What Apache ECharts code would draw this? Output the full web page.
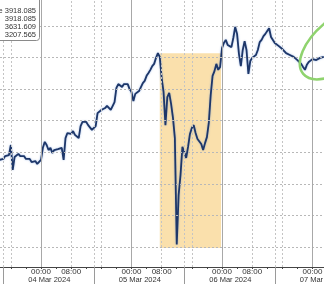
<!DOCTYPE html>
<html><head><meta charset="utf-8">
<script src="https://cdn.jsdelivr.net/npm/echarts@6/dist/echarts.min.js"></script>
<style>html,body{margin:0;padding:0;background:#fff;overflow:hidden}#c{width:324px;height:284px}</style>
</head><body><div id="c"></div>
<script>
// hours are counted from 04 Mar 2024 00:00
const startHour = -11;
const stepHours = 0.5;
const prices = [
3476,3482,3479,3488,3482,3491,3523,3444,3485,3479,
3495,3488,3482,3488,3479,3476,3479,3469,3466,3472,
3463,3469,3476,3514,3533,3523,3507,3514,3498,3507,
3501,3510,3504,3514,3476,3545,3561,3567,3558,3567,
3555,3561,3545,3583,3596,3590,3596,3586,3583,3571,
3577,3583,3624,3628,3634,3631,3640,3647,3650,3634,
3628,3659,3704,3716,3710,3707,3716,3710,3716,3700,
3691,3662,3685,3691,3694,3700,3719,3726,3742,3751,
3761,3773,3780,3799,3814,3802,3735,3691,3586,3675,
3688,3653,3609,3545,3207.6,3365,3428,3517,3501,3482,
3517,3558,3577,3586,3561,3542,3536,3526,3507,3529,
3548,3593,3681,3742,3757,3780,3761,3770,3830,3846,
3856,3840,3837,3833,3862,3897,3875,3811,3773,3824,
3852,3824,3748,3789,3799,3802,3808,3824,3849,3856,
3868,3875,3884,3893,3865,3859,3846,3840,3837,3833,
3827,3824,3814,3818,3808,3811,3802,3802,3792,3786,
3780,3770,3761,3777,3786,3792,3795,3789,3792,3795,
3799,3802,3802
];
const timeTickHours = [0, 8, 24, 32, 48, 56, 72];
const timeTickLabels = ['00:00','08:00','00:00','08:00','00:00','08:00','00:00'];
const minorTickHours = [-8,-4,0,4,8,12,16,20,24,28,32,36,40,44,48,52,56,60,64,68,72];
const dateLabelHours = [2.2, 26.2, 50.2, 74.2];
const dateLabels = ['04 Mar 2024','05 Mar 2024','06 Mar 2024','07 Mar 2024'];
const daySeparatorHours = [-10, 14, 38, 62];
const dayStartHours = [0, 24, 48, 72];
const sessionHours = [-10, -8, 8, 14, 16, 32, 38, 40, 56, 62, 64];
const gridValues = [3200, 3300, 3400, 3500, 3600, 3700, 3800, 3900];
const highlightHours = [31.5, 47.75];
const highlightValues = [3814, 3197];
const statLabels = ['Last Price', '', '', ''];
const statValues = ['3918.085', '3918.085', '3631.609', '3207.565'];
const xMin = -10.873, xMax = 75.05;
const yMin = 3136.6, yMax = 3982.3;

const seriesData = prices.map((p, i) => [startHour + i * stepHours, p]);
const FONT = '"Liberation Sans", Arial, sans-serif';

const chart = echarts.init(document.getElementById('c'), null, {renderer: 'canvas'});

const gridMarkLines = [];
gridValues.forEach(v => gridMarkLines.push({yAxis: v, lineStyle: {color: '#b8b8b8', type: [2, 2], width: 1}}));
sessionHours.forEach(h => gridMarkLines.push({xAxis: h, lineStyle: {color: '#c4c4c4', type: [2, 2], width: 1}}));
dayStartHours.forEach(h => gridMarkLines.push({xAxis: h, lineStyle: {color: '#a8a8a8', type: 'solid', width: 1}}));

const statTexts = statValues.map((v, i) => ({
  type: 'text',
  style: {
    text: (statLabels[i] ? statLabels[i] + ' ' : '') + v,
    x: 36, y: 11 + i * 8.1, align: 'right', verticalAlign: 'middle',
    font: '7.5px ' + FONT, fill: '#333'
  }
}));

chart.setOption({
  animation: false,
  grid: {left: 0, right: 0, top: 0, bottom: 17, containLabel: false, outerBoundsMode: 'none'},
  xAxis: [{
    type: 'value', min: xMin, max: xMax, position: 'bottom',
    axisLine: {show: true, lineStyle: {color: '#444', width: 1}},
    axisTick: {show: true, length: 2, customValues: minorTickHours, lineStyle: {color: '#444'}},
    axisLabel: {show: true, customValues: timeTickHours, margin: 1, fontSize: 8, fontFamily: FONT, color: '#333',
      formatter: v => { const k = timeTickHours.findIndex(t => Math.abs(t - v) < 1e-6); return k >= 0 ? timeTickLabels[k] : ''; }},
    splitLine: {show: false}
  }, {
    type: 'value', min: xMin, max: xMax, position: 'bottom', offset: 0,
    axisLine: {show: false},
    axisTick: {show: true, length: 17, customValues: daySeparatorHours, lineStyle: {color: '#9a9a9a'}},
    axisLabel: {show: true, customValues: dateLabelHours, margin: 9, fontSize: 7.5, fontFamily: FONT, color: '#333',
      formatter: v => { const k = dateLabelHours.findIndex(t => Math.abs(t - v) < 1e-6); return k >= 0 ? dateLabels[k] : ''; }},
    splitLine: {show: false}
  }],
  yAxis: {type: 'value', min: yMin, max: yMax, show: false, splitLine: {show: false}},
  series: [{
    type: 'line', data: [], z: 1, silent: true,
    markLine: {silent: true, symbol: ['none', 'none'], label: {show: false}, animation: false, data: gridMarkLines}
  }, {
    type: 'line', data: seriesData, z: 3, showSymbol: false, silent: true,
    lineStyle: {color: '#1e3769', width: 1.8, shadowColor: 'rgba(80,130,210,0.55)', shadowBlur: 2},
  }, {
    type: 'line', data: [], z: 5, silent: true,
    markArea: {silent: true, itemStyle: {color: 'rgba(243,186,72,0.45)'},
      data: [[{xAxis: highlightHours[0], yAxis: highlightValues[0]}, {xAxis: highlightHours[1], yAxis: highlightValues[1]}]]}
  }],
  graphic: [
    {type: 'rect', shape: {x: -10, y: -10, width: 49.5, height: 50.5, r: [0, 0, 3, 0]},
      style: {fill: '#fff', stroke: '#8a8a8a', lineWidth: 1}, z: 100},
    ...statTexts.map(t => Object.assign(t, {z: 101})),
    {type: 'ellipse', x: 340, y: 43, rotation: 0.698, shape: {cx: 0, cy: 0, rx: 48, ry: 25},
      style: {fill: 'none', stroke: '#8fd36e', lineWidth: 2.5}, z: 100}
  ]
});
</script></body></html>
